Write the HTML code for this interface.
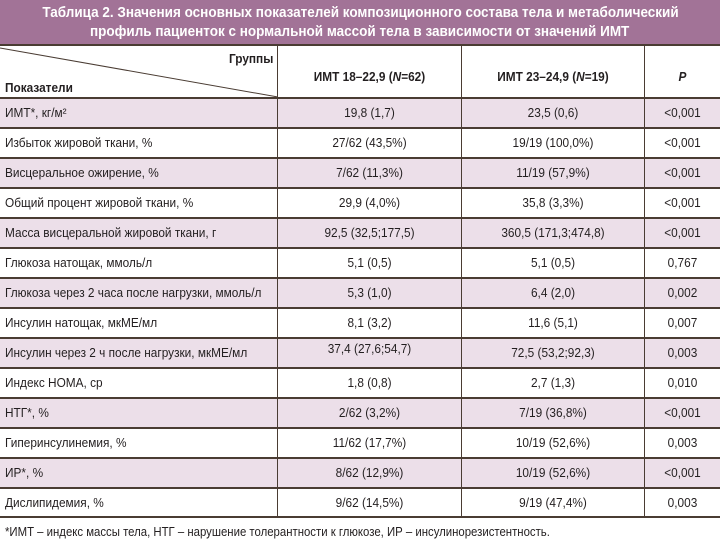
<!DOCTYPE html>
<html><head><meta charset="utf-8"><style>
*{margin:0;padding:0;box-sizing:border-box}
body{width:720px;height:545px;background:#fff;position:relative;overflow:hidden;font-family:"Liberation Sans Narrow","Liberation Sans",sans-serif;color:#231f20;font-size:13px}
.title{position:absolute;left:0;top:0;width:720px;height:44px;background:#a27397;color:#fff;font-weight:bold;font-size:15px;text-align:center;line-height:19px;padding-top:3px}
.title span{display:inline-block;transform:scaleX(.9);white-space:nowrap}
.hl{position:absolute;left:0;width:720px;height:2px;background:#4a3c33}
.vl{position:absolute;width:1px;background:#4a3c33;top:45px;height:471px}
.row{position:absolute;left:0;width:720px;height:30px}
.sh{background:#ecdfe9}
.c{position:absolute;line-height:30px;white-space:nowrap;transform:scaleX(.91)}
.c1{left:5px;transform-origin:left center}
.c2{left:278px;width:183px;text-align:center}
.c3{left:462px;width:182px;text-align:center}
.c4{left:645px;width:75px;text-align:center}
</style></head><body>
<div class="title"><span>Таблица 2. Значения основных показателей композиционного состава тела и метаболический</span><br><span>профиль пациенток с нормальной массой тела в зависимости от значений ИМТ</span></div>
<div class="hl" style="top:44px"></div>
<svg style="position:absolute;left:0;top:45px" width="278" height="53"><line x1="0" y1="3" x2="278" y2="52" stroke="#4a3c33" stroke-width="1"/></svg>
<div class="c" style="left:229px;top:44px;font-weight:bold;transform-origin:left center">Группы</div>
<div class="c c1" style="top:73px;font-weight:bold">Показатели</div>
<div class="c c2" style="top:62px;font-weight:bold">ИМТ 18–22,9 (<i>N</i>=62)</div>
<div class="c c3" style="top:62px;font-weight:bold">ИМТ 23–24,9 (<i>N</i>=19)</div>
<div class="c c4" style="top:62px;font-weight:bold"><i>P</i></div>
<div class="row sh" style="top:98px"><div class="c c1">ИМТ*, кг/м²</div><div class="c c2">19,8 (1,7)</div><div class="c c3">23,5 (0,6)</div><div class="c c4">&lt;0,001</div></div>
<div class="row" style="top:128px"><div class="c c1">Избыток жировой ткани, %</div><div class="c c2">27/62 (43,5%)</div><div class="c c3">19/19 (100,0%)</div><div class="c c4">&lt;0,001</div></div>
<div class="row sh" style="top:158px"><div class="c c1">Висцеральное ожирение, %</div><div class="c c2">7/62 (11,3%)</div><div class="c c3">11/19 (57,9%)</div><div class="c c4">&lt;0,001</div></div>
<div class="row" style="top:188px"><div class="c c1">Общий процент жировой ткани, %</div><div class="c c2">29,9 (4,0%)</div><div class="c c3">35,8 (3,3%)</div><div class="c c4">&lt;0,001</div></div>
<div class="row sh" style="top:218px"><div class="c c1">Масса висцеральной жировой ткани, г</div><div class="c c2">92,5 (32,5;177,5)</div><div class="c c3">360,5 (171,3;474,8)</div><div class="c c4">&lt;0,001</div></div>
<div class="row" style="top:248px"><div class="c c1">Глюкоза натощак, ммоль/л</div><div class="c c2">5,1 (0,5)</div><div class="c c3">5,1 (0,5)</div><div class="c c4">0,767</div></div>
<div class="row sh" style="top:278px"><div class="c c1">Глюкоза через 2 часа после нагрузки, ммоль/л</div><div class="c c2">5,3 (1,0)</div><div class="c c3">6,4 (2,0)</div><div class="c c4">0,002</div></div>
<div class="row" style="top:308px"><div class="c c1">Инсулин натощак, мкМЕ/мл</div><div class="c c2">8,1 (3,2)</div><div class="c c3">11,6 (5,1)</div><div class="c c4">0,007</div></div>
<div class="row sh" style="top:338px"><div class="c c1">Инсулин через 2 ч после нагрузки, мкМЕ/мл</div><div class="c c2" style="line-height:22px">37,4 (27,6;54,7)</div><div class="c c3">72,5 (53,2;92,3)</div><div class="c c4">0,003</div></div>
<div class="row" style="top:368px"><div class="c c1">Индекс HOMA, ср</div><div class="c c2">1,8 (0,8)</div><div class="c c3">2,7 (1,3)</div><div class="c c4">0,010</div></div>
<div class="row sh" style="top:398px"><div class="c c1">НТГ*, %</div><div class="c c2">2/62 (3,2%)</div><div class="c c3">7/19 (36,8%)</div><div class="c c4">&lt;0,001</div></div>
<div class="row" style="top:428px"><div class="c c1">Гиперинсулинемия, %</div><div class="c c2">11/62 (17,7%)</div><div class="c c3">10/19 (52,6%)</div><div class="c c4">0,003</div></div>
<div class="row sh" style="top:458px"><div class="c c1">ИР*, %</div><div class="c c2">8/62 (12,9%)</div><div class="c c3">10/19 (52,6%)</div><div class="c c4">&lt;0,001</div></div>
<div class="row" style="top:488px"><div class="c c1">Дислипидемия, %</div><div class="c c2">9/62 (14,5%)</div><div class="c c3">9/19 (47,4%)</div><div class="c c4">0,003</div></div>
<div class="hl" style="top:97px"></div>
<div class="hl" style="top:127px"></div>
<div class="hl" style="top:157px"></div>
<div class="hl" style="top:187px"></div>
<div class="hl" style="top:217px"></div>
<div class="hl" style="top:247px"></div>
<div class="hl" style="top:277px"></div>
<div class="hl" style="top:307px"></div>
<div class="hl" style="top:337px"></div>
<div class="hl" style="top:367px"></div>
<div class="hl" style="top:397px"></div>
<div class="hl" style="top:427px"></div>
<div class="hl" style="top:457px"></div>
<div class="hl" style="top:487px"></div>
<div class="hl" style="top:516px"></div>
<div class="vl" style="left:277px"></div>
<div class="vl" style="left:461px"></div>
<div class="vl" style="left:644px"></div>
<div class="c c1" style="top:517px;font-size:12.5px">*ИМТ – индекс массы тела, НТГ – нарушение толерантности к глюкозе, ИР – инсулинорезистентность.</div>
</body></html>
